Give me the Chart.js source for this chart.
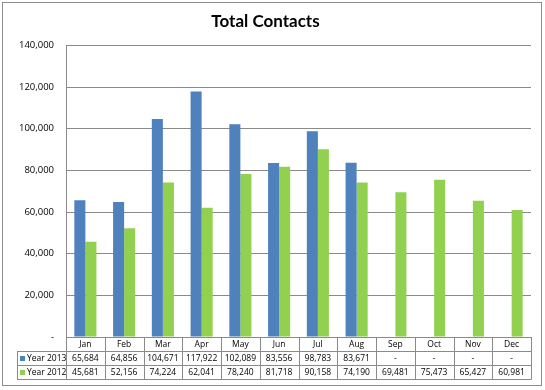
<!DOCTYPE html>
<html>
<head>
<meta charset="utf-8">
<script src="https://cdn.jsdelivr.net/npm/chart.js@4.4.1/dist/chart.umd.min.js"></script>
<style>
  html, body { margin: 0; padding: 0; background: #ffffff; }
  #wrap { position: relative; width: 545px; height: 390px; }
</style>
</head>
<body>
<div id="wrap"><canvas id="c" width="545" height="390"></canvas></div>
<script>
const categories = ['Jan','Feb','Mar','Apr','May','Jun','Jul','Aug','Sep','Oct','Nov','Dec'];
const year2013 = [65684, 64856, 104671, 117922, 102089, 83556, 98783, 83671, null, null, null, null];
const year2012 = [45681, 52156, 74224, 62041, 78240, 81718, 90158, 74190, 69481, 75473, 65427, 60981];
const seriesNames = ['Year 2013', 'Year 2012'];
const yTicks = [0, 20000, 40000, 60000, 80000, 100000, 120000, 140000];
const chartTitle = 'Total Contacts';

const BLUE = '#4f81bd';
const GREEN = '#92d050';
const LINE = '#8a8a8a';

function fmt(v) { return (v === null || v === 0) ? '-' : v.toLocaleString('en-US'); }

const tablePlugin = {
  id: 'dataTable',
  beforeDraw(chart) {
    const ctx = chart.ctx;
    ctx.save();
    ctx.fillStyle = '#ffffff';
    ctx.fillRect(0, 0, chart.width, chart.height);
    ctx.strokeStyle = '#8c8c8c';
    ctx.lineWidth = 1;
    ctx.strokeRect(2.5, 2.5, 539, 383);
    ctx.restore();
  },
  afterDraw(chart) {
    const ctx = chart.ctx;
    const x = chart.scales.x;
    const a = chart.chartArea;
    const rowH = 14;
    const top = a.bottom;
    const r1 = top + rowH, r2 = r1 + rowH, r3 = r2 + rowH;
    const legLeft = 17;
    const half = (x.getPixelForValue(1) - x.getPixelForValue(0)) / 2;
    ctx.save();
    ctx.strokeStyle = LINE;
    ctx.lineWidth = 1;
    ctx.beginPath();
    [r1, r2, r3].forEach(yy => { ctx.moveTo(legLeft, Math.round(yy) + 0.5); ctx.lineTo(Math.round(a.right) + 0.5, Math.round(yy) + 0.5); });
    for (let i = 0; i <= categories.length; i++) {
      const px = Math.round(x.getPixelForValue(i) - half) + 0.5;
      ctx.moveTo(px, top); ctx.lineTo(px, Math.round(r3) + 0.5);
    }
    ctx.moveTo(legLeft + 0.5, r1); ctx.lineTo(legLeft + 0.5, Math.round(r3) + 0.5);
    ctx.stroke();

    ctx.fillStyle = '#000000';
    ctx.font = '8.5px "Open Sans", sans-serif';
    ctx.textAlign = 'center';
    ctx.textBaseline = 'middle';
    categories.forEach((c, i) => {
      const px = x.getPixelForValue(i);
      ctx.fillText(c, px, (top + r1) / 2 + 1);
      ctx.fillText(fmt(year2013[i]), px, (r1 + r2) / 2 + 1);
      ctx.fillText(fmt(year2012[i]), px, (r2 + r3) / 2 + 1);
    });
    ctx.textAlign = 'left';
    [[BLUE, seriesNames[0], (r1 + r2) / 2], [GREEN, seriesNames[1], (r2 + r3) / 2]].forEach(([col, name, yy]) => {
      ctx.fillStyle = col;
      ctx.fillRect(legLeft + 3, Math.round(yy) - 2, 5, 5);
      ctx.fillStyle = '#000000';
      ctx.fillText(name, legLeft + 10, yy + 1);
    });
    ctx.restore();
  }
};

new Chart(document.getElementById('c'), {
  type: 'bar',
  data: {
    labels: categories,
    datasets: [
      { label: seriesNames[0], data: year2013, backgroundColor: BLUE },
      { label: seriesNames[1], data: year2012, backgroundColor: GREEN }
    ]
  },
  options: {
    responsive: false,
    animation: false,
    devicePixelRatio: 1,
    layout: { padding: { left: 0, right: 14, top: 0, bottom: 53 } },
    datasets: { bar: { barPercentage: 1.0, categoryPercentage: 0.57 } },
    plugins: {
      legend: { display: false },
      tooltip: { enabled: false },
      title: {
        display: true,
        text: chartTitle,
        color: '#000000',
        font: { family: 'Lato', size: 17, weight: 'bold' },
        padding: { top: 11, bottom: 14 }
      }
    },
    scales: {
      x: { display: false },
      y: {
        min: 0, max: 140000,
        afterBuildTicks(scale) { scale.ticks = yTicks.map(v => ({ value: v })); },
        afterFit(scale) { scale.width = 66; },
        ticks: {
          padding: 12,
          color: '#000000',
          font: { family: '"Open Sans"', size: 9.5 },
          callback: v => fmt(v)
        },
        grid: { color: LINE, drawTicks: false },
        border: { display: true, color: LINE }
      }
    }
  },
  plugins: [tablePlugin]
});
</script>
</body>
</html>
